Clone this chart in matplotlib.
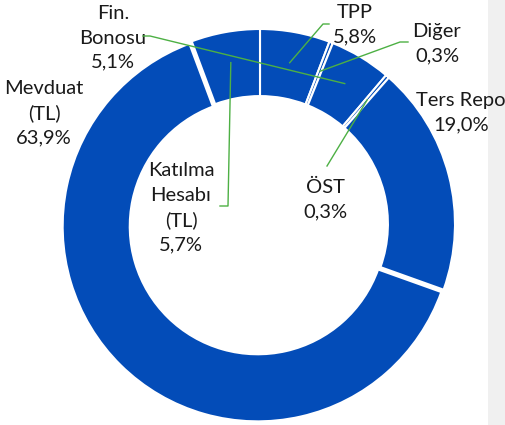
import numpy as np
import matplotlib
matplotlib.use("Agg")
import matplotlib.pyplot as plt
from matplotlib.patches import Rectangle

# data (clockwise from 12 o'clock)
labels = ["TPP", "Diğer", "Fin.\nBonosu", "ÖST", "Ters Repo", "Mevduat\n(TL)", "Katılma\nHesabı\n(TL)"]
values = [5.8, 0.3, 5.1, 0.3, 19.0, 63.9, 5.7]
value_text = ["5,8%", "0,3%", "5,1%", "0,3%", "19,0%", "63,9%", "5,7%"]

W, H = 506, 425
fig = plt.figure(figsize=(W / 100, H / 100), dpi=100)
fig.patch.set_facecolor("white")
fig.patches.append(Rectangle((488 / W, 0), 1 - 488 / W, 1, transform=fig.transFigure,
                             facecolor="#F0F0F0", edgecolor="none", zorder=-5))

cx, cy, R = 260, 224, 195
ax = fig.add_axes([(cx - R) / W, (H - cy - R) / H, 2 * R / W, 2 * R / H])
ax.set_zorder(2)
ax.patch.set_visible(False)

blue = "#034CB8"
explode = [0, 0, 0, 0, 0, 0.017, 0]
wedges, _ = ax.pie(values, startangle=90, counterclock=False, colors=[blue] * len(values),
                   explode=explode, radius=1.0,
                   wedgeprops=dict(width=0.344, edgecolor="white", linewidth=1.5))
ax.set_xlim(-1, 1)
ax.set_ylim(-1, 1)
ax.set_aspect("equal")
ax.axis("off")

def px2d(px, py):
    return ((px - cx) / R, (cy - py) / R)

font = ["Lato", "DejaVu Sans"]
fs = 14.5
green = "#4DB044"

# label positions (pixel, centre of text block) and connector elbows
label_pos = {
    0: (355, 25),
    1: (437, 44),
    2: (113, 38),
    3: (325, 200),
    4: (461, 113),
    5: (44, 113),
    6: (181, 208),
}
connectors = {
    0: [(329, 24), (323, 24)],
    1: [(408, 42), (400, 42)],
    2: [(143, 36), (150, 36)],
    3: [(327, 166)],
    6: [(220, 206), (228, 206)],
}

for i, w in enumerate(wedges):
    x, y = px2d(*label_pos[i])
    ax.text(x, y, labels[i] + "\n" + value_text[i], ha="center", va="center",
            fontsize=fs, family=font, color="#1A1A1A", linespacing=1.52,
            clip_on=False)
    if i in connectors:
        mid = np.deg2rad((w.theta1 + w.theta2) / 2)
        rr = 164 / R
        ex, ey = rr * np.cos(mid), rr * np.sin(mid)
        pts = [px2d(*p) for p in connectors[i]] + [(ex, ey)]
        xs, ys = zip(*pts)
        ax.plot(xs, ys, color=green, lw=1.0, clip_on=False, zorder=5)

fig.savefig("out.png", dpi=100)
